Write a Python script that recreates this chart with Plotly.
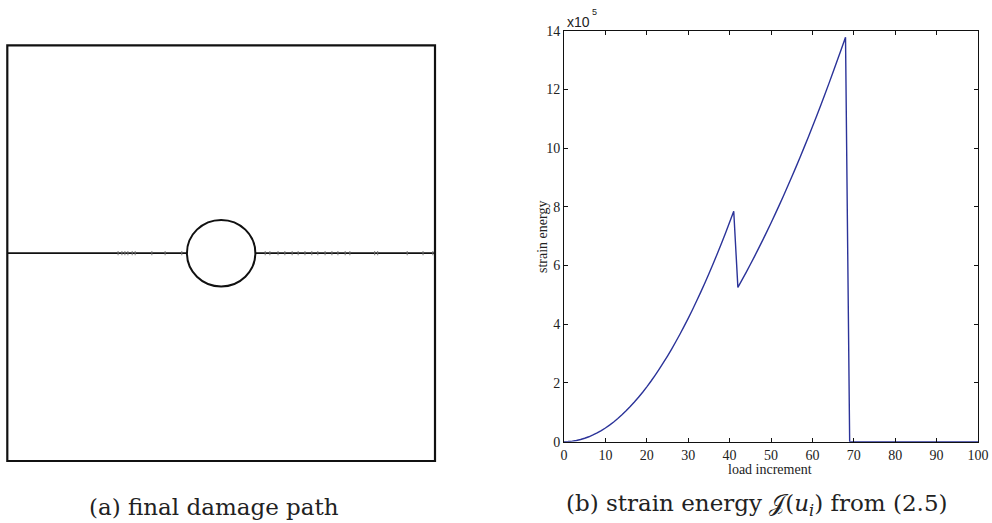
import plotly.graph_objects as go

# ---------------- data ----------------
load_increment = list(range(0, 101))
strain_energy_e5 = [
    0.000, 0.005, 0.019, 0.042, 0.075, 0.117, 0.168, 0.229, 0.299, 0.378,
    0.467, 0.565, 0.672, 0.789, 0.915, 1.051, 1.196, 1.350, 1.513, 1.686,
    1.868, 2.059, 2.260, 2.470, 2.690, 2.919, 3.157, 3.404, 3.661, 3.927,
    4.203, 4.488, 4.782, 5.086, 5.399, 5.721, 6.052, 6.393, 6.743, 7.103,
    7.472, 7.850, 5.257, 5.510, 5.769, 6.035, 6.306, 6.583, 6.866, 7.155,
    7.450, 7.751, 8.058, 8.371, 8.690, 9.015, 9.345, 9.682, 10.025, 10.373,
    10.728, 11.089, 11.455, 11.828, 12.206, 12.591, 12.981, 13.377, 13.780, 0.000,
    0.000, 0.000, 0.000, 0.000, 0.000, 0.000, 0.000, 0.000, 0.000, 0.000,
    0.000, 0.000, 0.000, 0.000, 0.000, 0.000, 0.000, 0.000, 0.000, 0.000,
    0.000, 0.000, 0.000, 0.000, 0.000, 0.000, 0.000, 0.000, 0.000, 0.000,
    0.000,
]
x_ticks = [0, 10, 20, 30, 40, 50, 60, 70, 80, 90, 100]
y_ticks = [0, 2, 4, 6, 8, 10, 12, 14]

# damage path geometry (unit square domain with central hole)
hole_center = (0.5, 0.5)
hole_radius = 0.08
crack_y = 0.5
crack_marks_x = [0.259, 0.268, 0.275, 0.282, 0.292, 0.299, 0.338, 0.369, 0.408,
                 0.603, 0.614, 0.633, 0.649, 0.666, 0.680, 0.696, 0.712, 0.726,
                 0.743, 0.759, 0.773, 0.790, 0.801, 0.859, 0.866, 0.935, 0.972, 0.995]

W, H = 992, 523
def px_x(p):
    return p / W
def px_y(p):
    return (H - p) / H

# left panel placement (pixels)
L_left, L_right, L_top, L_bot = 7.3, 435.0, 45.3, 461.0
pad = 0.01
lw = L_right - L_left
lh = L_bot - L_top
dom_x1 = [px_x(L_left - pad * lw), px_x(L_right + pad * lw)]
dom_y1 = [px_y(L_bot + pad * lh), px_y(L_top - pad * lh)]

# right panel placement (pixels)
R_left, R_right, R_top, R_bot = 564.0, 978.0, 30.7, 441.7
dom_x2 = [px_x(R_left), px_x(R_right)]
dom_y2 = [px_y(R_bot), px_y(R_top)]

fig = go.Figure()

# left: crack line
fig.add_trace(go.Scatter(
    x=[0, hole_center[0] - hole_radius, None, hole_center[0] + hole_radius, 1],
    y=[crack_y, crack_y, None, crack_y, crack_y],
    mode="lines", line=dict(color="#111111", width=1.6),
    xaxis="x", yaxis="y", showlegend=False, hoverinfo="skip"))
fig.add_trace(go.Scatter(
    x=crack_marks_x, y=[crack_y] * len(crack_marks_x),
    mode="markers", marker=dict(symbol="line-ns", size=3,
                                line=dict(color="#777777", width=1)),
    xaxis="x", yaxis="y", showlegend=False, hoverinfo="skip"))

# right: strain energy curve
fig.add_trace(go.Scatter(
    x=load_increment, y=strain_energy_e5, mode="lines",
    line=dict(color="#2b3399", width=1.4, simplify=False),
    xaxis="x2", yaxis="y2", showlegend=False))

shapes = [
    dict(type="rect", xref="x", yref="y", x0=0, x1=1, y0=0, y1=1,
         line=dict(color="#111111", width=2.2), layer="above"),
    dict(type="circle", xref="x", yref="y",
         x0=hole_center[0] - hole_radius, x1=hole_center[0] + hole_radius,
         y0=hole_center[1] - hole_radius, y1=hole_center[1] + hole_radius,
         line=dict(color="#111111", width=2), layer="above"),
]

tick_font = dict(family="Liberation Serif", size=14, color="#222222")
label_font = dict(family="Liberation Serif", size=14, color="#222222")
cap_font = dict(family="DejaVu Serif", size=23, color="#222222")
exp_font = dict(family="Liberation Sans", size=14, color="#222222")

def ann(text, xp, yp, font, **kw):
    d = dict(text=text, x=px_x(xp), y=px_y(yp), xref="paper", yref="paper",
             xanchor="center", yanchor="middle", showarrow=False, font=font)
    d.update(kw)
    return d

fig.update_layout(
    width=W, height=H, margin=dict(l=0, r=0, t=0, b=0, autoexpand=False),
    paper_bgcolor="white", plot_bgcolor="white",
    shapes=shapes,
    xaxis=dict(domain=dom_x1, range=[-pad, 1 + pad], visible=False, fixedrange=True,
               automargin=False),
    yaxis=dict(domain=dom_y1, range=[-pad, 1 + pad], visible=False, fixedrange=True,
               automargin=False),
    xaxis2=dict(domain=dom_x2, range=[0, 100], anchor="y2", automargin=False,
                tickmode="array", tickvals=x_ticks, ticktext=[str(t) for t in x_ticks],
                ticks="inside", ticklen=4, tickcolor="#111111",
                showline=True, linecolor="#111111", linewidth=1, mirror="ticks",
                showgrid=False, zeroline=False, tickfont=tick_font),
    yaxis2=dict(domain=dom_y2, range=[0, 14], anchor="x2", automargin=False,
                tickmode="array", tickvals=y_ticks, ticktext=[str(t) for t in y_ticks],
                ticks="inside", ticklen=4, tickcolor="#111111",
                showline=True, linecolor="#111111", linewidth=1, mirror="ticks",
                showgrid=False, zeroline=False, tickfont=tick_font),
    annotations=[
        ann("load increment", 770, 469, label_font),
        ann("strain energy", 543, 237, label_font, textangle=-90),
        ann("x10", 565, 22, exp_font, xanchor="left"),
        ann("5", 590, 12, dict(family="Liberation Sans", size=9, color="#222222"),
            xanchor="left"),
        ann("(a) final damage path", 214, 507, cap_font),
        ann("(b) strain energy 𝒥(<i>u<sub>i</sub></i>) from (2.5)", 757, 505, cap_font),
    ],
)

fig.write_html("out.html")
